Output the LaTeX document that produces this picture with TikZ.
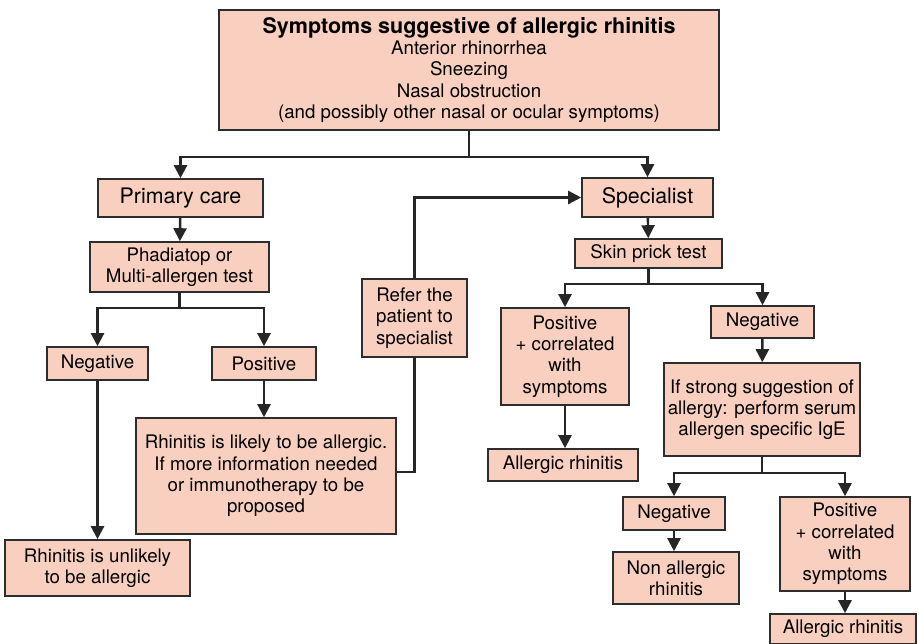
\documentclass[tikz,border=0pt]{standalone}
\usepackage{fontspec}
\setmainfont{TeX Gyre Heros}
\usetikzlibrary{positioning, arrows.meta}
\definecolor{boxfill}{RGB}{249,208,192}
\definecolor{boxdraw}{RGB}{45,45,45}

\begin{document}
\begin{tikzpicture}[
        x=0.5pt, y=-0.5pt,
        boxnode/.style={rectangle, draw=boxdraw, fill=boxfill, line width=0.8pt, align=center, inner sep=0pt, font=\fontsize{9.35}{10.65}\selectfont},
        levelnode/.style={boxnode, font=\fontsize{10.7}{12.8}\selectfont},
        arrow/.style={-{Triangle[width=6.5pt,length=6.5pt]}, line width=1.2pt, draw=black!85},
        link/.style={line width=1.2pt, draw=black!85}
    ]
        \useasboundingbox (0,0) rectangle (919,643);

        % Top of the chart
        \node[boxnode, minimum width=250pt, minimum height=60pt] (symptoms) at (469,70)
            {{\bfseries\fontsize{10.75}{11.1}\selectfont Symptoms suggestive of allergic rhinitis}\\ Anterior rhinorrhea\\ Sneezing\\ Nasal obstruction\\ (and possibly other nasal or ocular symptoms)};
        \node[levelnode, minimum width=82.5pt, minimum height=19pt] (primary) at (180.5,198) {Primary care};
        \node[levelnode, minimum width=65.5pt, minimum height=19.5pt] (specialist) at (647.5,197.5) {Specialist};

        % Primary care branch
        \node[boxnode, minimum width=89.5pt, minimum height=25pt] (phadiatop) at (179.5,267) {Phadiatop or\\ Multi-allergen test};
        \node[boxnode, minimum width=50.5pt, minimum height=16.5pt] (negleft) at (97.5,363.5) {Negative};
        \node[boxnode, minimum width=52pt, minimum height=16.5pt] (posleft) at (264,363.5) {Positive};
        \node[boxnode, minimum width=130pt, minimum height=58pt] (likely) at (266,476)
            {Rhinitis is likely to be allergic.\\ If more information needed\\ or immunotherapy to be\\ proposed};
        \node[boxnode, minimum width=92.5pt, minimum height=28pt] (unlikely) at (97.5,568) {Rhinitis is unlikely\\ to be allergic};
        \node[boxnode, minimum width=52.5pt, minimum height=39pt] (refer) at (414.5,318) {Refer the\\ patient to\\ specialist};

        % Specialist branch
        \node[boxnode, minimum width=73.5pt, minimum height=14.5pt] (skinprick) at (648.5,253.5) {Skin prick test};
        \node[boxnode, minimum width=64pt, minimum height=48.5pt] (posright) at (565,356.5) {Positive\\ + correlated\\ with\\ symptoms};
        \node[boxnode, minimum width=51.5pt, minimum height=16pt] (negright) at (762.5,322) {Negative};
        \node[boxnode, minimum width=75pt, minimum height=16pt] (allergicA) at (563,465) {Allergic rhinitis};
        \node[boxnode, minimum width=98pt, minimum height=46.5pt] (serum) at (762,409.5)
            {If strong suggestion of\\ allergy: perform serum\\ allergen specific IgE};
        \node[boxnode, minimum width=51pt, minimum height=16.5pt] (negserum) at (674,513.5) {Negative};
        \node[boxnode, minimum width=63pt, minimum height=26pt] (nonallergic) at (676,578) {Non allergic\\ rhinitis};
        \node[boxnode, minimum width=65pt, minimum height=47pt] (posserum) at (845,544) {Positive\\ + correlated\\ with\\ symptoms};
        \node[boxnode, minimum width=73pt, minimum height=15pt] (allergicB) at (843,629) {Allergic rhinitis};

        % Connectors
        \draw[arrow] (symptoms.south) -- ++(0,26) -| (primary.north);
        \draw[arrow] (symptoms.south) -- ++(0,26) -| (specialist.north);
        \draw[arrow] (primary) -- (phadiatop);
        \draw[arrow] (phadiatop.south) -- ++(0,15) -| (negleft.north);
        \draw[arrow] (phadiatop.south) -- ++(0,15) -| (posleft.north);
        \draw[arrow] (negleft.south) -- (negleft.south |- unlikely.north);
        \draw[arrow] (posleft.south) -- (posleft.south |- likely.north);
        \draw[link] ([yshift=2pt]likely.east) -| (refer.south);
        \draw[arrow] (refer.north) |- (specialist.west);

        \draw[arrow] (specialist) -- (skinprick);
        \draw[arrow] (skinprick.south) -- ++(0,15) -| (posright.north);
        \draw[arrow] (skinprick.south) -- ++(0,15) -| (negright.north);
        \draw[arrow] (posright.south) -- (posright.south |- allergicA.north);
        \draw[arrow] (negright) -- (serum);
        \draw[arrow] (serum.south) -- ++(0,16) -| (negserum.north);
        \draw[arrow] (serum.south) -- ++(0,16) -| (posserum.north);
        \draw[arrow] (negserum.south) -- (negserum.south |- nonallergic.north);
        \draw[arrow] (posserum.south) -- (posserum.south |- allergicB.north);
    \end{tikzpicture}
\end{document}
